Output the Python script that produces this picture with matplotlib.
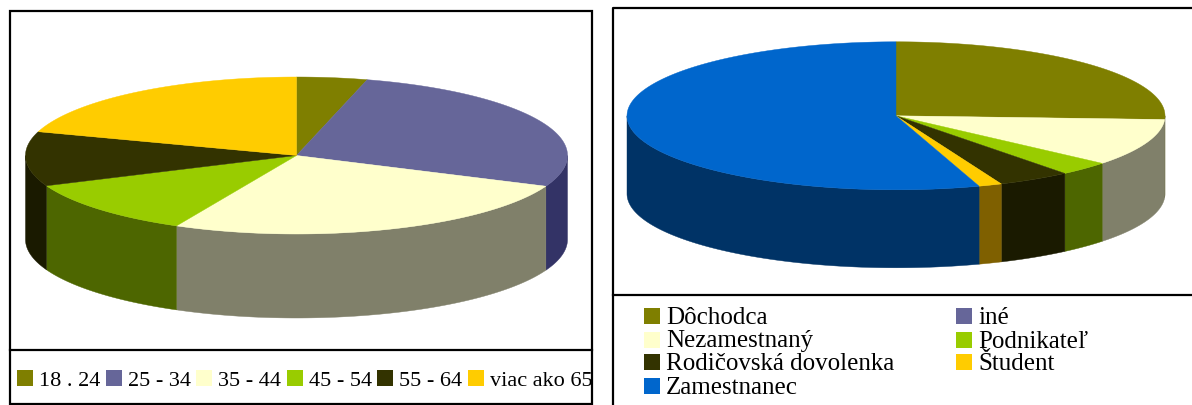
#!/usr/bin/env python3
"""Two flat 3D-look pie charts with boxed legends, saved as out.png."""

import numpy as np
import matplotlib
matplotlib.use("Agg")
import matplotlib.pyplot as plt

plt.rcParams["font.family"] = ["Liberation Serif", "DejaVu Serif"]

age_labels = ["18 . 24", "25 - 34", "35 - 44", "45 - 54", "55 - 64", "viac ako 65"]
age_values = [4.2, 27.2, 25.9, 11.4, 11.2, 20.1]
age_colors = ["#7f7f00", "#666699", "#ffffcc", "#99cc00", "#333300", "#ffcc00"]
age_walls = ["#404000", "#333366", "#80806a", "#4d6600", "#1a1a00", "#806600"]

status_labels = ["Dôchodca", "iné", "Nezamestnaný", "Podnikateľ",
                 "Rodičovská dovolenka", "Študent", "Zamestnanec"]
status_values = [25.8, 0.0, 10.3, 3.1, 4.4, 1.4, 55.0]
status_colors = ["#7f7f00", "#666699", "#ffffcc", "#99cc00", "#333300", "#ffcc00", "#0066cc"]
status_walls = ["#404000", "#333366", "#80806a", "#4d6600", "#1a1a00", "#7f6000", "#003366"]


def draw_pie(ax, values, colors, walls, cx, cy, rx, ry, depth):
    """Draw walls first, then the top faces, clockwise from twelve o'clock."""
    edges = np.cumsum([0.0] + list(values))
    edges = 2 * np.pi * edges / edges[-1]

    for i, wall in enumerate(walls):
        # only the front half of the rim can be seen
        a = max(edges[i], np.pi / 2)
        b = min(edges[i + 1], 3 * np.pi / 2)
        if b <= a:
            continue
        t = np.linspace(a, b, 200)
        x = cx + rx * np.sin(t)
        y = cy - ry * np.cos(t)
        ax.fill(np.r_[x, x[::-1]], np.r_[y, y[::-1] + depth],
                facecolor=wall, edgecolor=wall, linewidth=0.3, zorder=2 + i * 0.01)

    for i, color in enumerate(colors):
        if values[i] == 0:
            continue
        t = np.linspace(edges[i], edges[i + 1], 200)
        x = cx + rx * np.sin(t)
        y = cy - ry * np.cos(t)
        ax.fill(np.r_[cx, x], np.r_[cy, y],
                facecolor=color, edgecolor=color, linewidth=0.3, zorder=3)


def draw_legend(ax, labels, colors, xs, ys, size, fontsize, text_dx, clip=None):
    for label, color, x, y in zip(labels, colors, xs, ys):
        ax.fill([x, x + size, x + size, x], [y - size, y - size, y, y],
                facecolor=color, edgecolor="none", zorder=4)
        txt = ax.text(x + text_dx, y, label, fontsize=fontsize, color="black",
                      ha="left", va="baseline", zorder=5)
        if clip is not None:
            txt.set_clip_path(clip)


def main():
    fig = plt.figure(figsize=(11.92, 4.05), dpi=100)
    ax = fig.add_axes([0, 0, 1, 1])
    ax.set_xlim(0, 1192)
    ax.set_ylim(405, 0)
    ax.axis("off")

    # left chart box
    box = plt.Rectangle((10, 11), 582, 393, facecolor="white",
                        edgecolor="black", linewidth=1.6, zorder=6, fill=False)
    ax.add_patch(box)
    ax.plot([10, 592], [350, 350], color="black", linewidth=1.6, zorder=6)
    draw_pie(ax, age_values, age_colors, age_walls, 296.5, 155.5, 271, 78.5, 84)
    clip = plt.Rectangle((10, 351), 581, 52, transform=ax.transData)
    draw_legend(ax, age_labels, age_colors,
                [17, 106, 196, 287, 377, 468], [386] * 6,
                16, 16, 22, clip=clip)

    # right chart box, it runs off the picture on the right and at the bottom
    ax.plot([1192, 612.5, 612.5], [7.5, 7.5, 405], color="black", linewidth=1.6, zorder=6)
    ax.plot([612.5, 1192], [295, 295], color="black", linewidth=1.6, zorder=6)
    draw_pie(ax, status_values, status_colors, status_walls, 896, 115.8, 269, 74, 78)
    draw_legend(ax, status_labels, status_colors,
                [644, 956, 644, 956, 644, 956, 644],
                [324, 324, 347.5, 347.5, 370, 370, 394],
                16, 18, 22)

    fig.savefig("out.png", dpi=100, facecolor="white")
    plt.close(fig)


if __name__ == "__main__":
    main()
